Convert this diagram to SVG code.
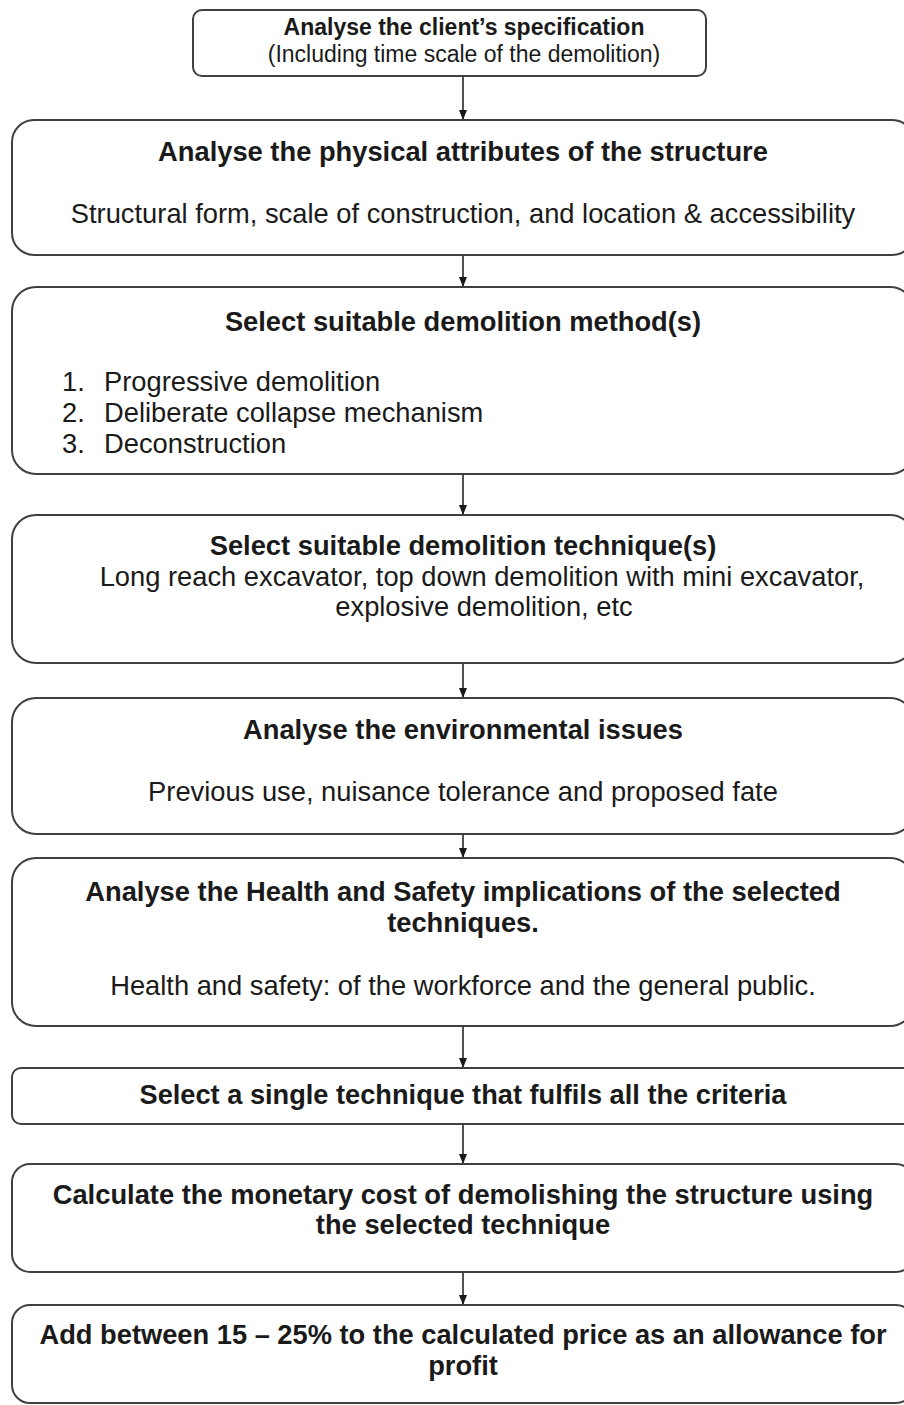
<svg xmlns="http://www.w3.org/2000/svg" width="904" height="1405" viewBox="0 0 904 1405">
  <style>
    .box { fill: #ffffff; stroke: #404040; stroke-width: 2; }
    .t { font-family: "Liberation Sans", Arial, sans-serif; fill: #1a1a1a; text-anchor: middle; }
    .n { font-family: "Liberation Sans Narrow", "Arial Narrow", "Liberation Sans", sans-serif; }
    .b { font-weight: bold; }
    .s23 { font-size: 23px; }
    .s27 { font-size: 27.3px; }
    .l { text-anchor: start; }
    .conn line { stroke: #1a1a1a; stroke-width: 1.5; }
  </style>
  <defs>
    <marker id="arrow" markerWidth="10" markerHeight="10" refX="9" refY="5" orient="auto" markerUnits="userSpaceOnUse">
      <path d="M0,1 L10,5 L0,9 Z" fill="#1a1a1a"/>
    </marker>
  </defs>
  <rect width="904" height="1405" fill="#ffffff"/>

  <g id="connectors" class="conn">
    <line x1="463" y1="76" x2="463" y2="119" marker-end="url(#arrow)"/>
    <line x1="463" y1="255" x2="463" y2="286" marker-end="url(#arrow)"/>
    <line x1="463" y1="474" x2="463" y2="514" marker-end="url(#arrow)"/>
    <line x1="463" y1="663" x2="463" y2="697" marker-end="url(#arrow)"/>
    <line x1="463" y1="834" x2="463" y2="857" marker-end="url(#arrow)"/>
    <line x1="463" y1="1026" x2="463" y2="1067" marker-end="url(#arrow)"/>
    <line x1="463" y1="1124" x2="463" y2="1163" marker-end="url(#arrow)"/>
    <line x1="463" y1="1272" x2="463" y2="1304" marker-end="url(#arrow)"/>
  </g>

  <g id="client-spec">
    <rect class="box" x="193" y="10" width="513" height="66" rx="9"/>
    <text class="t b s23" x="464" y="35">Analyse the client’s specification</text>
    <text class="t s23" x="464" y="62">(Including time scale of the demolition)</text>
  </g>

  <g id="physical-attributes">
    <rect class="box" x="12" y="120" width="902" height="135" rx="22"/>
    <text class="t b s27" x="463" y="161">Analyse the physical attributes of the structure</text>
    <text class="t s27" x="463" y="223">Structural form, scale of construction, and location &amp; accessibility</text>
  </g>

  <g id="demolition-methods">
    <rect class="box" x="12" y="287" width="902" height="187" rx="24"/>
    <text class="t b s27" x="463" y="331">Select suitable demolition method(s)</text>
    <text class="t s27 l" x="62" y="391">1.</text>
    <text class="t s27 l" x="104" y="391">Progressive demolition</text>
    <text class="t s27 l" x="62" y="422">2.</text>
    <text class="t s27 l" x="104" y="422">Deliberate collapse mechanism</text>
    <text class="t s27 l" x="62" y="453">3.</text>
    <text class="t s27 l" x="104" y="453">Deconstruction</text>
  </g>

  <g id="demolition-techniques">
    <rect class="box" x="12" y="515" width="902" height="148" rx="24"/>
    <text class="t b s27" x="463" y="555">Select suitable demolition technique(s)</text>
    <text class="t s27" x="482" y="586">Long reach excavator, top down demolition with mini excavator,</text>
    <text class="t s27" x="484" y="616">explosive demolition, etc</text>
  </g>

  <g id="environmental-issues">
    <rect class="box" x="12" y="698" width="902" height="136" rx="24"/>
    <text class="t b s27" x="463" y="739">Analyse the environmental issues</text>
    <text class="t s27" x="463" y="801">Previous use, nuisance tolerance and proposed fate</text>
  </g>

  <g id="health-safety">
    <rect class="box" x="12" y="858" width="902" height="168" rx="24"/>
    <text class="t b s27" x="463" y="901">Analyse the Health and Safety implications of the selected</text>
    <text class="t b s27" x="463" y="932">techniques.</text>
    <text class="t s27" x="463" y="995">Health and safety: of the workforce and the general public.</text>
  </g>

  <g id="single-technique">
    <rect class="box" x="12" y="1068" width="902" height="56" rx="9"/>
    <text class="t n b s27" x="463" y="1104" textLength="647" lengthAdjust="spacingAndGlyphs">Select a single technique that fulfils all the criteria</text>
  </g>

  <g id="monetary-cost">
    <rect class="box" x="12" y="1164" width="902" height="108" rx="18"/>
    <text class="t b s27" x="463" y="1204">Calculate the monetary cost of demolishing the structure using</text>
    <text class="t b s27" x="463" y="1234">the selected technique</text>
  </g>

  <g id="profit-allowance">
    <rect class="box" x="12" y="1305" width="902" height="98" rx="18"/>
    <text class="t n b s27" x="463" y="1344" textLength="847" lengthAdjust="spacingAndGlyphs">Add between 15 – 25% to the calculated price as an allowance for</text>
    <text class="t n b s27" x="463" y="1375">profit</text>
  </g>
</svg>
